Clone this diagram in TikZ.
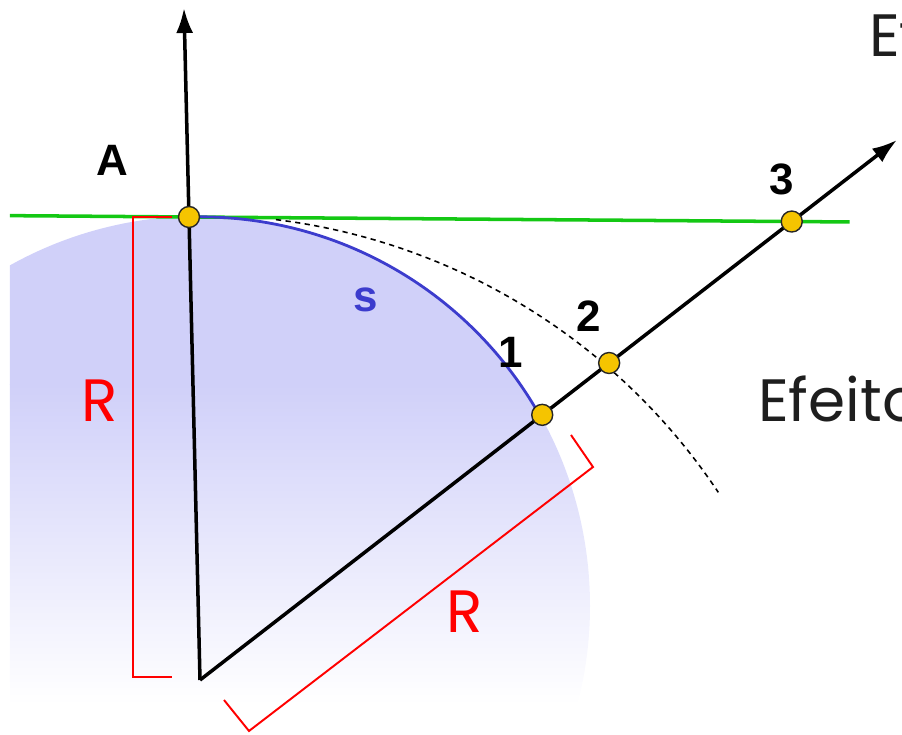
\documentclass[tikz,border=0pt]{standalone}
\usepackage{fontspec}
\setsansfont{Liberation Sans}
\newfontfamily\geofont{Poppins}
\usetikzlibrary{calc, arrows.meta}

\definecolor{dotyellow}{RGB}{245,196,0}
\definecolor{linegreen}{RGB}{20,200,20}
\definecolor{arcblue}{RGB}{60,60,205}
\definecolor{shadeblue}{RGB}{208,208,249}
\definecolor{txtgray}{RGB}{30,30,30}

\tikzset{
  pt/.style={circle, draw=black!85, line width=0.8pt, fill=dotyellow, inner sep=0pt, minimum size=0.42cm},
  num/.style={font=\sffamily\bfseries\fontsize{25}{30}\selectfont},
  bigR/.style={text=red, font=\geofont\fontsize{34}{40}\selectfont},
  effect/.style={text=txtgray, anchor=base west, font=\geofont\fontsize{34}{40}\selectfont},
  ray/.style={line width=2pt, -{Latex[length=5mm, width=3.4mm]}},
  brace/.style={red, line width=1.1pt},
}

\begin{document}
\begin{tikzpicture}
  \clip (0,0) rectangle (18.04,14.7);
  % main points
  \coordinate (O) at (4.0,1.1);
  \coordinate (A) at (3.78,10.36);
  \coordinate (up) at (3.68,14.54);
  \coordinate (tip) at (17.94,11.9);
  \coordinate (P1) at ($(O)!0.491!(tip)$);
  \coordinate (P2) at ($(O)!0.587!(tip)$);
  \coordinate (P3) at ($(O)!0.849!(tip)$);
  \coordinate (C) at (4.0,2.58);   % centre of the disc
  \coordinate (D) at (4.0,-2.06);  % centre of the dashed arc
  % shaded disc
  \begin{scope}
    \clip (0.2,0) rectangle (18,14.7);
    \clip (C) circle (7.8);
    \fill[shadeblue] (0,7) rectangle (18,11);
    \shade[top color=shadeblue, bottom color=white] (0,0.6) rectangle (18,7.01);
  \end{scope}
  % tangent line
  \draw[linegreen, line width=2pt] ($(A)!-0.297!(P3)$) -- ($(A)!1.096!(P3)$);
  % dashed arc
  \draw[line width=0.9pt, dash pattern=on 3pt off 2.5pt] ($(D)+(83:12.46)$) arc[start angle=83, end angle=33.7, radius=12.46];
  % arc s
  \draw[arcblue, line width=1.6pt] (A) arc[start angle=91.6, end angle=29.2, radius=7.8];
  % radii
  \draw[ray] (O) -- (up);
  \draw[ray] (O) -- (tip);
  % brackets
  \draw[brace] (3.44,10.36) -- (2.66,10.36) -- (2.66,1.16) -- (3.44,1.16);
  \draw[brace] (4.48,0.7) -- (4.98,0.08) -- (11.86,5.36) -- (11.42,6.0);
  \node[bigR] (Rleft) at (2.0,6.68) {R};
  \node[bigR] (Rdiag) at (9.3,2.46) {R};
  % points
  \node[pt] (dA) at (A) {};
  \node[pt] (d1) at (P1) {};
  \node[pt] (d2) at (P2) {};
  \node[pt] (d3) at (P3) {};
  % labels
  \node[num] (lA) at (2.24,11.5) {A};
  \node[num] (l1) at (10.22,7.66) {1};
  \node[num] (l2) at (11.78,8.38) {2};
  \node[num] (l3) at (15.64,11.12) {3};
  \node[num, text=arcblue] (ls) at (7.32,8.7) {s};
  \node[effect] (eff1) at (15.04,6.26) {Efeito};
  \node[effect] (eff2) at (17.26,13.56) {Efeito};
\end{tikzpicture}
\end{document}
